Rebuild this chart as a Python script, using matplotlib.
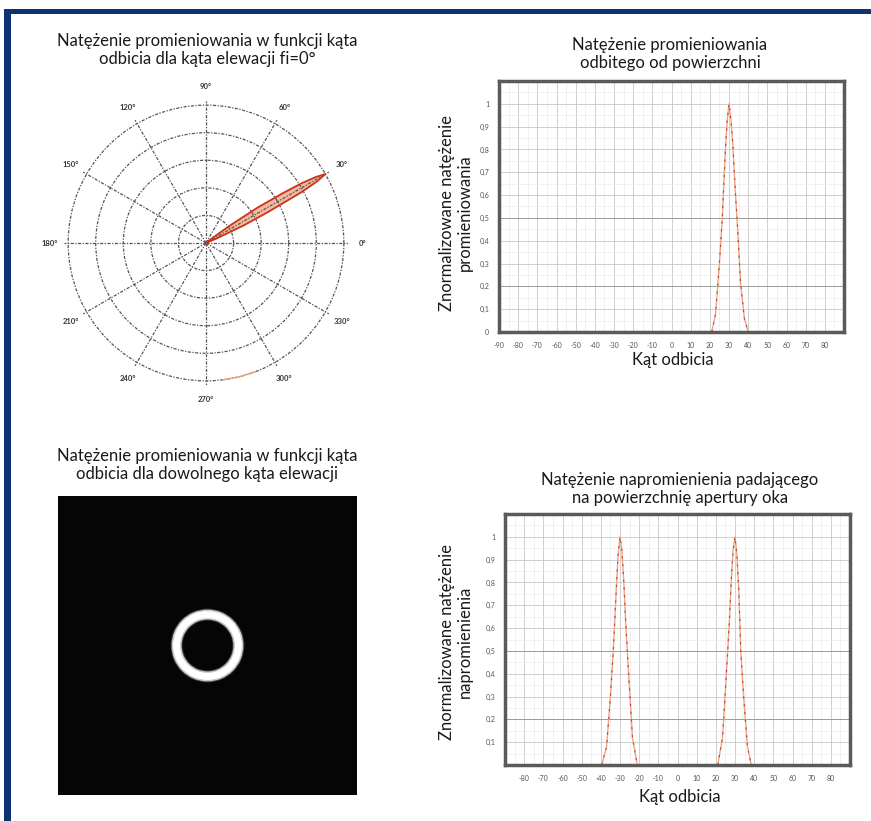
import numpy as np
import matplotlib
matplotlib.use("Agg")
import matplotlib.pyplot as plt
from matplotlib.patches import Rectangle, Wedge

plt.rcParams['font.family'] = ['Lato', 'DejaVu Sans']

# odbicie od powierzchni (kat odbicia -> natezenie)
refl_angle = [21, 23, 25, 26.5, 28, 29, 30, 31, 32, 33, 34.5, 36, 38, 40]
refl_int = [0, 0.08, 0.3, 0.5, 0.78, 0.92, 1.0, 0.93, 0.82, 0.66, 0.45, 0.22, 0.06, 0]

# slad na obwodzie wykresu biegunowego
arc_angle = [277, 284, 291]
arc_r = [1.0, 1.0, 1.0]

# napromienienie apertury oka - dwa piki
eye_angle_l = [-39.5, -37, -35, -33.5, -32, -31, -30, -29, -28, -27, -25.5, -23.5, -21]
eye_int_l = [0, 0.08, 0.3, 0.5, 0.76, 0.92, 1.0, 0.94, 0.8, 0.62, 0.4, 0.12, 0]
eye_angle_r = [21, 23.5, 25.5, 27, 28, 29, 30, 31, 32, 33, 34.5, 36.5, 38.5]
eye_int_r = [0, 0.12, 0.4, 0.62, 0.8, 0.94, 1.0, 0.92, 0.76, 0.5, 0.3, 0.08, 0]

# pierscien (katy w stopniach)
ring_radius = 31
ring_width = 9

polar_ticks = [0, 30, 60, 90, 120, 150, 180, 210, 240, 270, 300, 330]
line_xticks_top = list(range(-90, 90, 10))
line_xticks_bot = list(range(-80, 90, 10))
yticks = [0, 0.1, 0.2, 0.3, 0.4, 0.5, 0.6, 0.7, 0.8, 0.9, 1.0]

fig = plt.figure(figsize=(8.71, 8.21), dpi=100)
W, H = 871, 821

def box(x0, y0, x1, y1):
    return [x0 / W, 1 - y1 / H, (x1 - x0) / W, (y1 - y0) / H]

# ramka
navy = '#0d3370'
fig.add_artist(Rectangle((4 / W, 1 - 14 / H), 1, 5 / H, transform=fig.transFigure, color=navy, lw=0))
fig.add_artist(Rectangle((4 / W, 0), 7 / W, 1 - 9 / H, transform=fig.transFigure, color=navy, lw=0))

fs = 12
title_kw = dict(fontsize=fs, color='#1a1a1a', linespacing=1.2)

# --- wykres biegunowy ---
axp = fig.add_axes(box(64, 101, 348, 385), projection='polar')
axp.fill(np.radians(refl_angle), refl_int, color='#f4b9a2', lw=0)
axp.plot(np.radians(refl_angle), refl_int, color='#cc3318', lw=1.3)
axp.plot(np.radians(arc_angle), arc_r, color='#e9a07a', lw=1)
axp.set_ylim(0, 1.03)
axp.set_yticks([0.2, 0.4, 0.6, 0.8, 1.0])
axp.set_yticklabels([])
axp.set_thetagrids(polar_ticks, [f'{t}°' for t in polar_ticks], fontsize=5.5, color='#333333', weight='bold')
axp.tick_params(axis='x', pad=0)
axp.grid(True, color='#555555', ls=(0, (2.5, 1.2, 1, 1.2)), lw=0.9)
axp.spines['polar'].set_visible(False)
fig.text(207 / W, 1 - 50 / H, 'Natężenie promieniowania w funkcji kąta\nodbicia dla kąta elewacji fi=0°',
         ha='center', va='center', **title_kw)

def line_panel(rect, xticks, show_zero):
    ax = fig.add_axes(rect)
    ax.set_xlim(-90, 90)
    ax.set_ylim(0, 1.1)
    ax.set_xticks(xticks)
    ax.set_xticklabels([str(t) for t in xticks], fontsize=5, color='#555555')
    ax.set_xticks(np.arange(-85, 90, 10), minor=True)
    labs = [str(v).replace('.', ',') if v != 1.0 else '1' for v in yticks]
    if not show_zero:
        labs[0] = ''
    ax.set_yticks(yticks)
    ax.set_yticklabels(labs, fontsize=5, color='#555555')
    ax.set_yticks(np.arange(0.05, 1.1, 0.1), minor=True)
    ax.tick_params(which='both', length=0, pad=7)
    ax.grid(True, which='major', color='#c8c8c8', lw=0.6)
    ax.grid(True, which='minor', color='#ebebeb', lw=0.5)
    for yy in (0.2, 0.5):
        ax.axhline(yy, color='#9a9a9a', lw=0.7)
    for s in ax.spines.values():
        s.set_color('#5a5a5a')
        s.set_linewidth(2.5)
    return ax

# --- odbicie od powierzchni ---
ax1 = line_panel(box(499, 81, 844, 332), line_xticks_top, True)
ax1.plot(refl_angle, refl_int, color='#efa586', lw=1)
ax1.plot(refl_angle, refl_int, color='#b5452a', lw=0.8, ls=(0, (2, 5)))
fig.text(670 / W, 1 - 54 / H, 'Natężenie promieniowania\nodbitego od powierzchni', ha='center', va='center', **title_kw)
fig.text(673 / W, 1 - 360 / H, 'Kąt odbicia', ha='center', va='center', fontsize=fs, color='#1a1a1a')
fig.text(456 / W, 1 - 213 / H, 'Znormalizowane natężenie\npromieniowania', ha='center', va='center',
         rotation=90, fontsize=fs, color='#1a1a1a', linespacing=1.2)

# --- pierscien ---
axr = fig.add_axes(box(58, 496, 357, 795))
axr.set_facecolor('#050505')
axr.set_xlim(-150, 150)
axr.set_ylim(-150, 150)
axr.add_patch(Wedge((0, 0), ring_radius + ring_width / 2 + 1.5, 0, 360, width=ring_width + 3, color='#3a3a3a', lw=0))
axr.add_patch(Wedge((0, 0), ring_radius + ring_width / 2 + 0.5, 0, 360, width=ring_width + 1, color='#c8c8c8', lw=0))
axr.add_patch(Wedge((0, 0), ring_radius + ring_width / 2 - 1, 0, 360, width=ring_width - 2, color='#ffffff', lw=0))
axr.set_xticks([])
axr.set_yticks([])
for s in axr.spines.values():
    s.set_visible(False)
fig.text(207 / W, 1 - 465 / H, 'Natężenie promieniowania w funkcji kąta\nodbicia dla dowolnego kąta elewacji',
         ha='center', va='center', **title_kw)

# --- apertura oka ---
ax2 = line_panel(box(505, 514, 850, 765), line_xticks_bot, False)
for xs, ys in ((eye_angle_l, eye_int_l), (eye_angle_r, eye_int_r)):
    ax2.plot(xs, ys, color='#efa586', lw=1)
    ax2.plot(xs, ys, color='#b5452a', lw=0.8, ls=(0, (2, 5)))
fig.text(680 / W, 1 - 489 / H, 'Natężenie napromienienia padającego\nna powierzchnię apertury oka',
         ha='center', va='center', **title_kw)
fig.text(680 / W, 1 - 797 / H, 'Kąt odbicia', ha='center', va='center', fontsize=fs, color='#1a1a1a')
fig.text(456 / W, 1 - 642 / H, 'Znormalizowane natężenie\nnapromienienia', ha='center', va='center',
         rotation=90, fontsize=fs, color='#1a1a1a', linespacing=1.2)

fig.savefig('out.png', dpi=100)
